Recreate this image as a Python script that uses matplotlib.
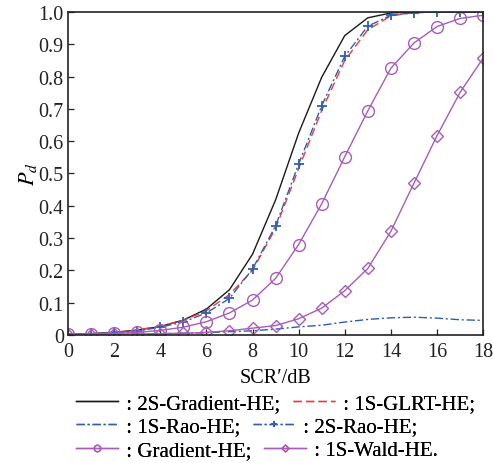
import matplotlib
matplotlib.use("Agg")
import matplotlib.pyplot as plt
from matplotlib.ticker import FuncFormatter

plt.rcParams['font.family'] = ['Liberation Serif', 'DejaVu Serif']
plt.rcParams['mathtext.fontset'] = 'stix'

scr = [0, 1, 2, 3, 4, 5, 6, 7, 8, 9, 10, 11, 12, 13, 14, 15, 16, 17, 18]

grad2s = [0.002, 0.004, 0.008, 0.015, 0.026, 0.046, 0.080, 0.140, 0.250, 0.418, 0.625, 0.798, 0.927, 0.982, 0.997, 1.0, 1.0, 1.0, 1.0]
glrt1s = [0.002, 0.004, 0.008, 0.015, 0.028, 0.045, 0.075, 0.125, 0.200, 0.330, 0.515, 0.695, 0.850, 0.945, 0.988, 0.998, 1.0, 1.0, 1.0]
rao1s = [0.001, 0.001, 0.002, 0.003, 0.004, 0.005, 0.007, 0.010, 0.013, 0.018, 0.025, 0.030, 0.040, 0.048, 0.053, 0.055, 0.052, 0.047, 0.045]
rao2s = [0.002, 0.004, 0.007, 0.012, 0.024, 0.040, 0.068, 0.113, 0.204, 0.338, 0.529, 0.710, 0.863, 0.956, 0.990, 0.998, 1.0, 1.0, 1.0]
gradient = [0.002, 0.003, 0.005, 0.008, 0.014, 0.024, 0.041, 0.068, 0.108, 0.175, 0.280, 0.406, 0.552, 0.694, 0.826, 0.904, 0.955, 0.980, 0.990]
wald1s = [0.001, 0.001, 0.002, 0.003, 0.004, 0.005, 0.008, 0.013, 0.021, 0.029, 0.050, 0.083, 0.137, 0.206, 0.321, 0.470, 0.617, 0.751, 0.857]

labels = [' : 2S-Gradient-HE;', ' : 1S-GLRT-HE;', ' : 1S-Rao-HE;', ' : 2S-Rao-HE;',
          ' : Gradient-HE;', ' : 1S-Wald-HE.']

black = '#1a1a1a'
red = '#f03a3a'
blue = '#2f5fae'
purple = '#a65cb8'

fig = plt.figure(figsize=(4.93, 4.64), dpi=100)
ax = fig.add_axes([0.138, 0.276, 0.842, 0.696])

lw = 1.0
h1, = ax.plot(scr, grad2s, color=black, lw=lw, label=labels[0])
h2, = ax.plot(scr, glrt1s, color=red, lw=lw, ls=(0, (6, 3)), label=labels[1])
h3, = ax.plot(scr, rao1s, color=blue, lw=lw, ls=(0, (6, 2, 1.5, 2)), label=labels[2])
h4, = ax.plot(scr, rao2s, color=blue, lw=lw, ls=(0, (6, 2, 1.5, 2)), marker='+',
              markersize=7, markeredgewidth=1.3, label=labels[3])
h5, = ax.plot(scr, gradient, color=purple, lw=lw, marker='o', markersize=8.5,
              fillstyle='none', markeredgewidth=1.0, label=labels[4])
h6, = ax.plot(scr, wald1s, color=purple, lw=lw, marker='D', markersize=6.5,
              fillstyle='none', markeredgewidth=1.0, label=labels[5])

ax.set_xlim(0, 18)
ax.set_ylim(0, 1.0)
ax.set_xticks(range(0, 19, 2))
ax.set_yticks([i / 10 for i in range(11)])
ax.yaxis.set_major_formatter(FuncFormatter(lambda v, p: '0' if abs(v) < 1e-9 else f'{v:.1f}'))
ax.tick_params(direction='in', labelsize=14.5, length=4, width=0.9, colors='#222222')
ax.tick_params(axis='x', pad=5)
ax.tick_params(axis='y', pad=3)
for s in ax.spines.values():
    s.set_linewidth(1.2)
    s.set_color('#222222')

ax.set_xlabel('SCR′/dB', fontsize=14.5, labelpad=5)
ax.set_ylabel('$P_d$', fontsize=16, labelpad=0)

rows = [[h1, h2], [h3, h4], [h5, h6]]
ys = [0.128, 0.078, 0.027]
for (ha, hb), yy in zip(rows, ys):
    leg = fig.legend([ha, hb], [ha.get_label(), hb.get_label()], loc='center left',
                     bbox_to_anchor=(0.155, yy), ncol=2, frameon=False, fontsize=15,
                     handlelength=2.0, handletextpad=0.15, columnspacing=0.6,
                     borderaxespad=0, borderpad=0, markerscale=0.55)
    fig.add_artist(leg)

fig.savefig('out.png', dpi=100)
